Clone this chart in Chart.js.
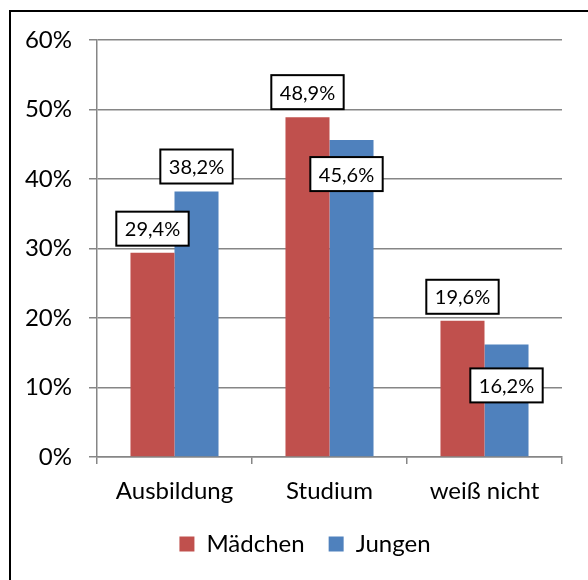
<!DOCTYPE html>
<html>
<head>
<meta charset="utf-8">
<script src="https://cdn.jsdelivr.net/npm/chart.js@4/dist/chart.umd.min.js"></script>
<style>
  html, body { margin: 0; padding: 0; background: #fff; }
  #wrap { width: 588px; height: 580px; position: relative; }
</style>
</head>
<body>
<div id="wrap"><canvas id="myChart" width="588" height="580"></canvas></div>
<script>
// chart data
var categories = ['Ausbildung', 'Studium', 'weiß nicht'];
var maedchen = [29.4, 48.9, 19.6];
var jungen = [38.2, 45.6, 16.2];
var yTicks = [0, 10, 20, 30, 40, 50, 60];

var FONT = 'Lato, "Open Sans", sans-serif';
var GREY = '#868686';

// where each value box sits relative to the bar top (Excel moved two of them inside)
var labelPlace = [
    [{ dx: 0, above: 7 }, { dx: 0, above: 8 }, { dx: 0, above: 7 }],
    [{ dx: 0, above: 8 }, { dx: -5, below: 17 }, { dx: 0, below: 24 }]
];

function pct(v) {
    return v.toFixed(1).replace('.', ',') + '%';
}

var frame = {
    id: 'frame',
    beforeDraw: function(chart) {
        var ctx = chart.ctx;
        ctx.save();
        ctx.fillStyle = '#fff';
        ctx.fillRect(0, 0, chart.width, chart.height);
        ctx.strokeStyle = '#000';
        ctx.lineWidth = 2;
        ctx.strokeRect(10, 11, 620, 620);
        ctx.restore();
    },
    afterLayout: function(chart) {
        // legend sits a bit right of the canvas centre in the original
        chart.legend.left += 24;
        chart.legend.right += 24;
    }
};

var valueBoxes = {
    id: 'valueBoxes',
    afterDatasetsDraw: function(chart) {
        var ctx = chart.ctx;
        ctx.save();
        ctx.font = '20px ' + FONT;
        ctx.textAlign = 'center';
        ctx.textBaseline = 'middle';
        chart.data.datasets.forEach(function(ds, di) {
            var meta = chart.getDatasetMeta(di);
            meta.data.forEach(function(bar, i) {
                var txt = pct(ds.data[i]);
                var w = ctx.measureText(txt).width + 17;
                var h = 34;
                var p = labelPlace[di][i];
                var cx = bar.x + p.dx;
                var top = p.above !== undefined ? bar.y - p.above - h : bar.y + p.below;
                ctx.fillStyle = '#fff';
                ctx.fillRect(cx - w / 2, top, w, h);
                ctx.strokeStyle = '#000';
                ctx.lineWidth = 2;
                ctx.strokeRect(cx - w / 2, top, w, h);
                ctx.fillStyle = '#000';
                ctx.fillText(txt, cx, top + h / 2 + 1);
            });
        });
        ctx.restore();
    }
};

var ctx = document.getElementById('myChart');
var myChart = new Chart(ctx, {
    type: 'bar',
    data: {
        labels: categories,
        datasets: [{
            label: 'Mädchen',
            data: maedchen,
            backgroundColor: '#C0504D',
            categoryPercentage: 0.568,
            barPercentage: 1
        }, {
            label: 'Jungen',
            data: jungen,
            backgroundColor: '#4F81BD',
            categoryPercentage: 0.568,
            barPercentage: 1
        }]
    },
    options: {
        responsive: false,
        animation: false,
        layout: {
            padding: { left: 0, right: 26, top: 40, bottom: 14 }
        },
        plugins: {
            legend: {
                position: 'bottom',
                labels: {
                    color: '#000',
                    font: { family: FONT, size: 24 },
                    boxWidth: 15,
                    boxHeight: 15,
                    padding: 24
                }
            },
            tooltip: { enabled: false }
        },
        scales: {
            x: {
                grid: {
                    display: true,
                    drawOnChartArea: false,
                    drawTicks: true,
                    tickLength: 7,
                    color: GREY,
                    lineWidth: 1.5
                },
                border: { color: GREY, width: 1.5 },
                ticks: {
                    color: '#000',
                    font: { family: FONT, size: 24 },
                    padding: 13
                },
                afterFit: function(scale) { scale.height = 51; }
            },
            y: {
                min: 0,
                max: 60,
                afterBuildTicks: function(scale) {
                    scale.ticks = yTicks.map(function(v) { return { value: v }; });
                },
                grid: {
                    color: GREY,
                    lineWidth: 1.5,
                    tickLength: 8
                },
                border: { color: GREY, width: 1.5 },
                ticks: {
                    color: '#000',
                    font: { family: FONT, size: 24 },
                    padding: 17,
                    callback: function(v) { return v + '%'; }
                },
                afterFit: function(scale) { scale.width = 97; }
            }
        }
    },
    plugins: [frame, valueBoxes]
});
</script>
</body>
</html>
